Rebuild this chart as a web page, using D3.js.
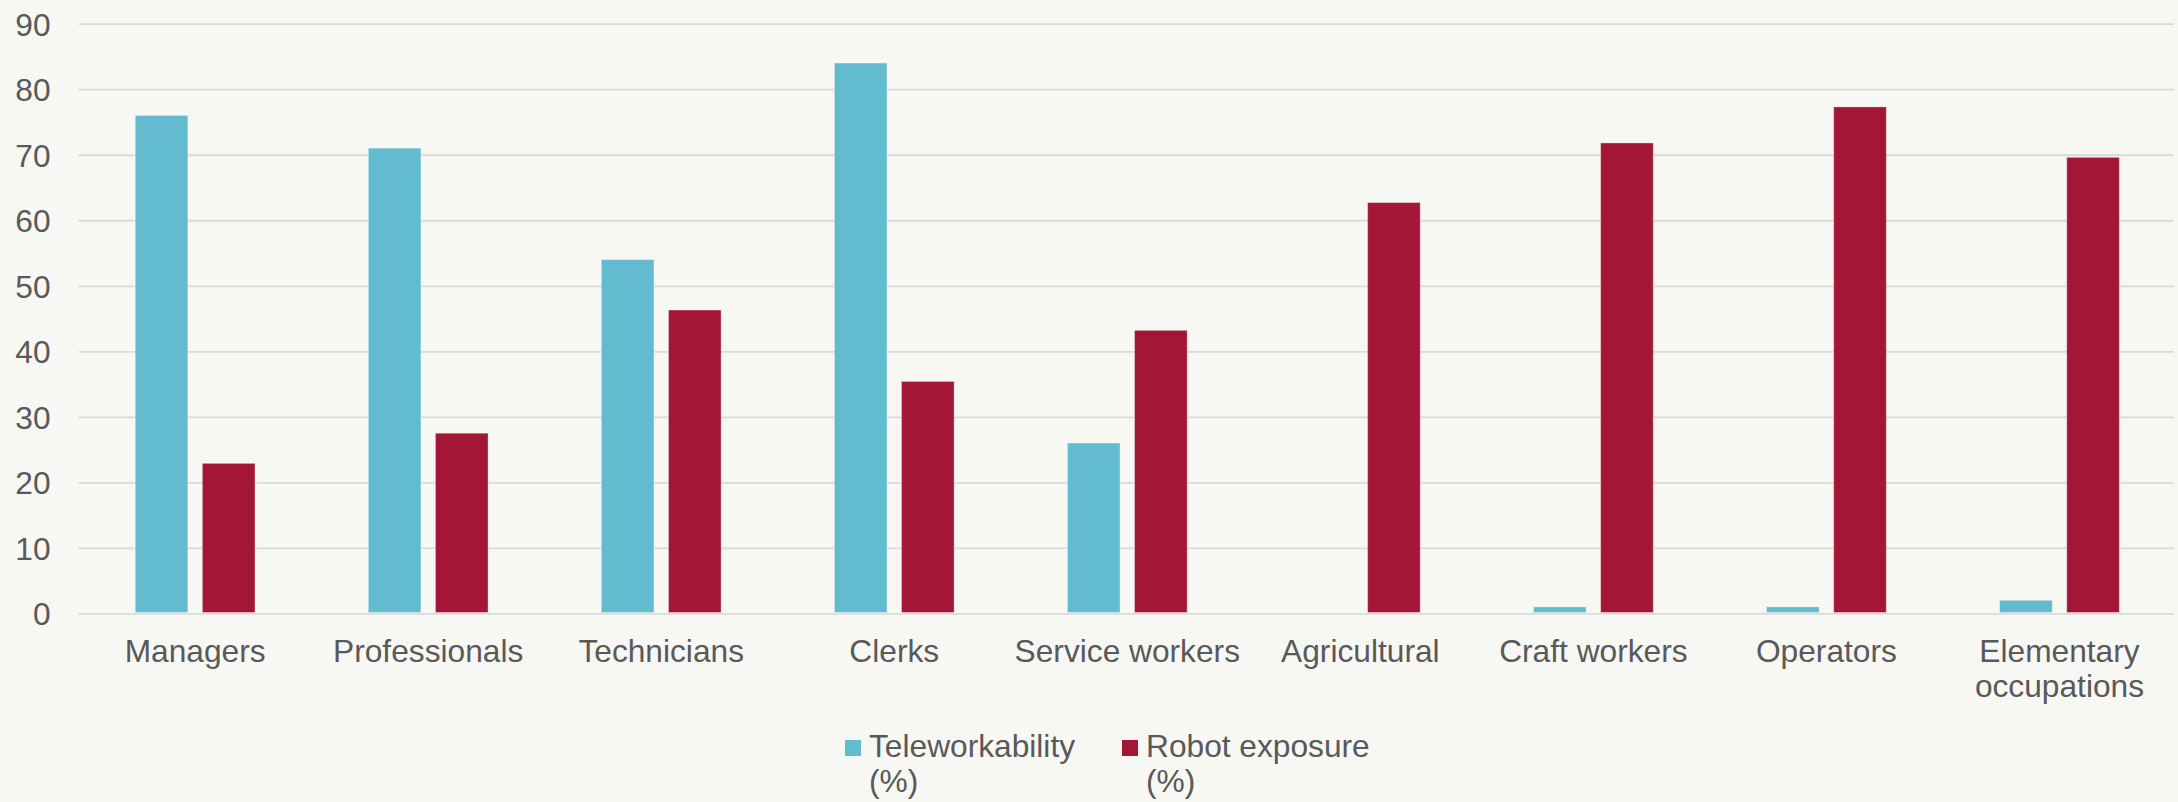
<!DOCTYPE html>
<html>
<head>
<meta charset="utf-8">
<script src="https://cdn.jsdelivr.net/npm/d3@7"></script>
<style>
  html, body { margin: 0; padding: 0; background: #f7f7f3; }
  svg { display: block; font-family: "Liberation Sans", Arial, sans-serif; }
</style>
</head>
<body>
<svg id="chart" width="2178" height="802"></svg>
<script>
const categories = [["Managers"], ["Professionals"], ["Technicians"], ["Clerks"], ["Service workers"], ["Agricultural"], ["Craft workers"], ["Operators"], ["Elementary", "occupations"]];
const teleworkability = [76, 71, 54, 84, 26, 0, 1, 1, 2];
const robotExposure = [22.9, 27.5, 46.3, 35.4, 43.2, 62.7, 71.8, 77.3, 69.6];
const seriesNames = [["Teleworkability", "(%)"], ["Robot exposure", "(%)"]];
const seriesKeys = ["tele", "robot"];
const yTicks = [0, 10, 20, 30, 40, 50, 60, 70, 80, 90];

const colors = { tele: "#62bbcf", robot: "#a31636" };
const textColor = "#595959";
const fontSize = 31.7;

const svg = d3.select("#chart");
const plotLeft = 78.6, plotRight = 2176, plotTop = 23.7, plotBottom = 613.4;
const gridRight = 2174;

const catIds = categories.map(c => c.join(" "));
const x0 = d3.scaleBand().domain(catIds).range([plotLeft, plotRight]).paddingInner(0).paddingOuter(0);
const x1 = d3.scaleBand().domain(seriesKeys).range([0, x0.bandwidth()]).paddingInner(0.2164).paddingOuter(0.844);
const y = d3.scaleLinear().domain([0, 90]).range([plotBottom, plotTop]);

// gridlines + y labels
const yAxis = d3.axisLeft(y).tickValues(yTicks).tickSize(-(gridRight - plotLeft)).tickPadding(28);
const gy = svg.append("g").attr("transform", `translate(${plotLeft},0)`).call(yAxis);
gy.select(".domain").remove();
gy.selectAll(".tick line").attr("stroke", "#dadada").attr("stroke-width", 1.8);
gy.selectAll(".tick text")
  .attr("fill", textColor)
  .attr("font-size", fontSize)
  .attr("font-family", "'Liberation Sans', Arial, sans-serif")
  .attr("dy", "0.36em");

// data
const data = catIds.map((c, i) => ({ cat: c, tele: teleworkability[i], robot: robotExposure[i] }));

const groups = svg.append("g").selectAll("g").data(data).join("g")
  .attr("transform", d => `translate(${x0(d.cat)},0)`);

groups.selectAll("rect")
  .data(d => seriesKeys.map(k => ({ key: k, value: d[k] })))
  .join("rect")
  .attr("x", d => x1(d.key))
  .attr("width", x1.bandwidth())
  .attr("y", d => y(d.value))
  .attr("height", d => Math.max(0, y(0) - 0.9 - y(d.value)))
  .attr("fill", d => colors[d.key])
  .attr("stroke", d => d.value > 0 ? "rgba(255,255,255,0.35)" : "none")
  .attr("stroke-width", 1);

// x labels
const xl = svg.append("g");
categories.forEach((lines, i) => {
  const cx = x0(catIds[i]) + x0.bandwidth() / 2;
  const t = xl.append("text")
    .attr("x", cx)
    .attr("y", 662)
    .attr("text-anchor", "middle")
    .attr("fill", textColor)
    .attr("font-size", fontSize);
  lines.forEach((ln, j) => {
    t.append("tspan").attr("x", cx).attr("dy", j === 0 ? 0 : 35).text(ln);
  });
});

// legend
const legendX = [845, 1122];
const lg = svg.append("g");
seriesKeys.forEach((k, i) => {
  lg.append("rect").attr("x", legendX[i]).attr("y", 740).attr("width", 16).attr("height", 16).attr("fill", colors[k]);
  const t = lg.append("text").attr("x", legendX[i] + 24).attr("y", 757).attr("fill", textColor).attr("font-size", fontSize);
  seriesNames[i].forEach((ln, j) => {
    t.append("tspan").attr("x", legendX[i] + 24).attr("dy", j === 0 ? 0 : 35).text(ln);
  });
});
</script>
</body>
</html>
